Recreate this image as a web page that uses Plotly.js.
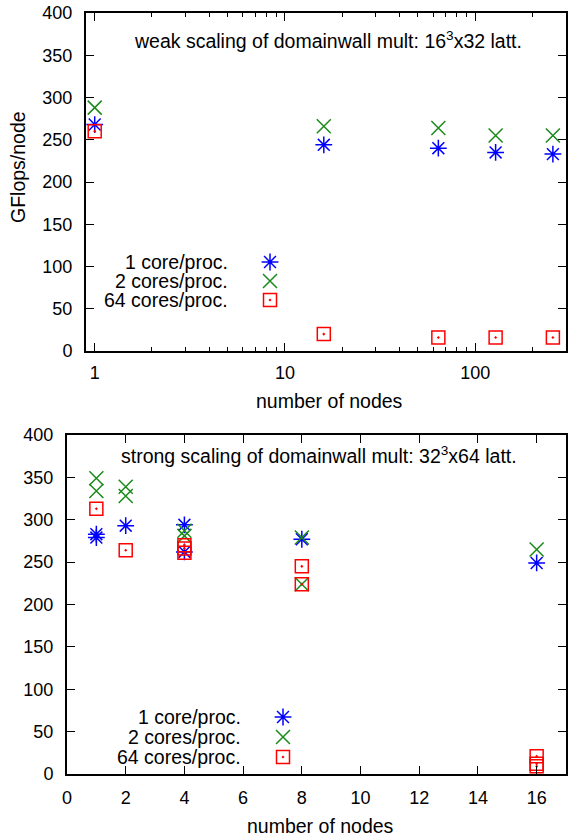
<!DOCTYPE html>
<html>
<head>
<meta charset="utf-8">
<script src="https://cdn.plot.ly/plotly-3.0.1.min.js"></script>
<style>html,body{margin:0;padding:0;background:#fff;}#chart{width:569px;height:838px;}</style>
</head>
<body>
<div id="chart"></div>
<script>
// ---- data ----
var weakNodes = [1, 16, 64, 128, 256];
var weak1core = [268, 244, 240, 235, 233];
var weak2core = [288, 266, 264, 255, 255];
var weak64core = [260, 20, 16, 16, 16];

var strong1Nodes = [1, 1, 2, 4, 4, 8, 16];
var strong1core = [283, 279, 293, 294, 262, 277, 249];
var strong2Nodes = [1, 1, 2, 2, 4, 4, 8, 8, 16];
var strong2core = [349, 334, 339, 328, 287, 281, 279, 224, 265];
var strong64Nodes = [1, 2, 4, 4, 4, 8, 8, 16, 16, 16];
var strong64core = [313, 264, 270, 266, 261, 245, 224, 21, 12, 9];

var seriesNames = ['1 core/proc.', '2 cores/proc.', '64 cores/proc.'];
var yTicks = [0, 50, 100, 150, 200, 250, 300, 350, 400];
var weakXTicks = [1, 10, 100];
var strongXTicks = [0, 2, 4, 6, 8, 10, 12, 14, 16];
var titleWeak = 'weak scaling of domainwall mult: 16<sup>3</sup>x32 latt.';
var titleStrong = 'strong scaling of domainwall mult: 32<sup>3</sup>x64 latt.';
var xTitle = 'number of nodes';
var yTitle = 'GFlops/node';

// ---- styles ----
var W = 569, H = 838;
var FONT = 'Liberation Sans, Arial, Helvetica, sans-serif';
var FS_TICK = 18, FS_TEXT = 19.5;
var BLUE = '#0000ff', GREEN = '#1a8a1a', RED = '#ff0000';
var styles = [
  {symbol: 'asterisk-open', size: 14, line: {color: BLUE, width: 1.5}, color: BLUE},
  {symbol: 'x-thin-open', size: 14, line: {color: GREEN, width: 1.5}, color: GREEN},
  {symbol: 'square-open-dot', size: 13, line: {color: RED, width: 1.5}, color: RED}
];

// pixel geometry of the two plot frames
var boxA = {l: 86, r: 566, t: 13, b: 351};
var boxB = {l: 67, r: 566, t: 435, b: 774};
function px(x) { return x / W; }
function py(y) { return 1 - y / H; }

function mk(x, y, xa, ya, i) {
  return {type: 'scatter', mode: 'markers', x: x, y: y, xaxis: xa, yaxis: ya,
          marker: styles[i], showlegend: false, hoverinfo: 'x+y', name: seriesNames[i]};
}

var data = [
  mk(weakNodes, weak1core, 'x', 'y', 0),
  mk(weakNodes, weak2core, 'x', 'y', 1),
  mk(weakNodes, weak64core, 'x', 'y', 2),
  mk(strong1Nodes, strong1core, 'x2', 'y2', 0),
  mk(strong2Nodes, strong2core, 'x2', 'y2', 1),
  mk(strong64Nodes, strong64core, 'x2', 'y2', 2)
];

// legend keys (pixel-space overlay axes)
var legA = {textRight: 230, key: 270, ys: [262, 281, 300]};
var legB = {textRight: 243, key: 283, ys: [717, 737, 757]};
for (var i = 0; i < 3; i++) {
  data.push({type: 'scatter', mode: 'markers', x: [legA.key], y: [legA.ys[i]], xaxis: 'x3', yaxis: 'y3',
             marker: styles[i], showlegend: false, hoverinfo: 'skip'});
  data.push({type: 'scatter', mode: 'markers', x: [legB.key], y: [legB.ys[i]], xaxis: 'x4', yaxis: 'y4',
             marker: styles[i], showlegend: false, hoverinfo: 'skip'});
}

var tickFont = {family: FONT, size: FS_TICK, color: '#000'};
var textFont = {family: FONT, size: FS_TEXT, color: '#000'};
function axisBase() {
  return {showline: true, linecolor: '#000', linewidth: 2, mirror: 'allticks',
          ticks: 'inside', ticklen: 8, tickwidth: 1, tickcolor: '#000',
          showgrid: false, zeroline: false, tickfont: tickFont, fixedrange: true};
}

var xa = axisBase();
xa.type = 'log'; xa.range = [Math.log10(0.9), Math.log10(300)];
xa.domain = [px(boxA.l), px(boxA.r)]; xa.anchor = 'y';
xa.tickmode = 'array'; xa.tickvals = weakXTicks; xa.ticktext = weakXTicks.map(String);
xa.minor = {ticks: 'inside', ticklen: 4, tickcolor: '#000', tickwidth: 1,
            tickmode: 'array', tickvals: [2,3,4,5,6,7,8,9,20,30,40,50,60,70,80,90,200,300], showgrid: false};
xa.ticklabelstandoff = 4;

var ya = axisBase();
ya.range = [0, 400]; ya.tickmode = 'array'; ya.tickvals = yTicks;
ya.domain = [py(boxA.b), py(boxA.t)]; ya.anchor = 'x';
ya.ticklabelstandoff = 8;

var xb = axisBase();
xb.range = [0, 17]; xb.tickmode = 'array'; xb.tickvals = strongXTicks;
xb.domain = [px(boxB.l), px(boxB.r)]; xb.anchor = 'y2';
xb.ticklabelstandoff = 6;

var yb = axisBase();
yb.range = [0, 400]; yb.tickmode = 'array'; yb.tickvals = yTicks;
yb.domain = [py(boxB.b), py(boxB.t)]; yb.anchor = 'x2';
yb.ticklabelstandoff = 8;

function hidden(range, ov, anchor) {
  return {range: range, overlaying: ov, anchor: anchor, visible: false, fixedrange: true,
          showgrid: false, zeroline: false};
}

function ann(text, x, y, xanchor, extra) {
  var a = {text: text, x: x, y: y, xref: 'paper', yref: 'paper', xanchor: xanchor, yanchor: 'middle',
           showarrow: false, font: textFont};
  if (extra) for (var k in extra) a[k] = extra[k];
  return a;
}

var annotations = [
  ann(titleWeak, px(328), py(40), 'center'),
  ann(titleStrong, px(319), py(455), 'center'),
  ann(xTitle, px(329), py(401), 'center'),
  ann(xTitle, px(320), py(826), 'center'),
  ann(yTitle, px(18), py(167), 'center', {textangle: -90})
];
for (var j = 0; j < 3; j++) {
  annotations.push(ann(seriesNames[j], px(legA.textRight), py(legA.ys[j]), 'right'));
  annotations.push(ann(seriesNames[j], px(legB.textRight), py(legB.ys[j]), 'right'));
}

var layout = {
  width: W, height: H, margin: {l: 0, r: 0, t: 0, b: 0},
  paper_bgcolor: '#fff', plot_bgcolor: '#fff', showlegend: false,
  font: textFont,
  xaxis: xa, yaxis: ya, xaxis2: xb, yaxis2: yb,
  xaxis3: hidden([boxA.l, boxA.r], 'x', 'y3'),
  yaxis3: hidden([boxA.b, boxA.t], 'y', 'x3'),
  xaxis4: hidden([boxB.l, boxB.r], 'x2', 'y4'),
  yaxis4: hidden([boxB.b, boxB.t], 'y2', 'x4'),
  annotations: annotations
};

Plotly.newPlot('chart', data, layout, {displayModeBar: false, staticPlot: true});
</script>
</body>
</html>
